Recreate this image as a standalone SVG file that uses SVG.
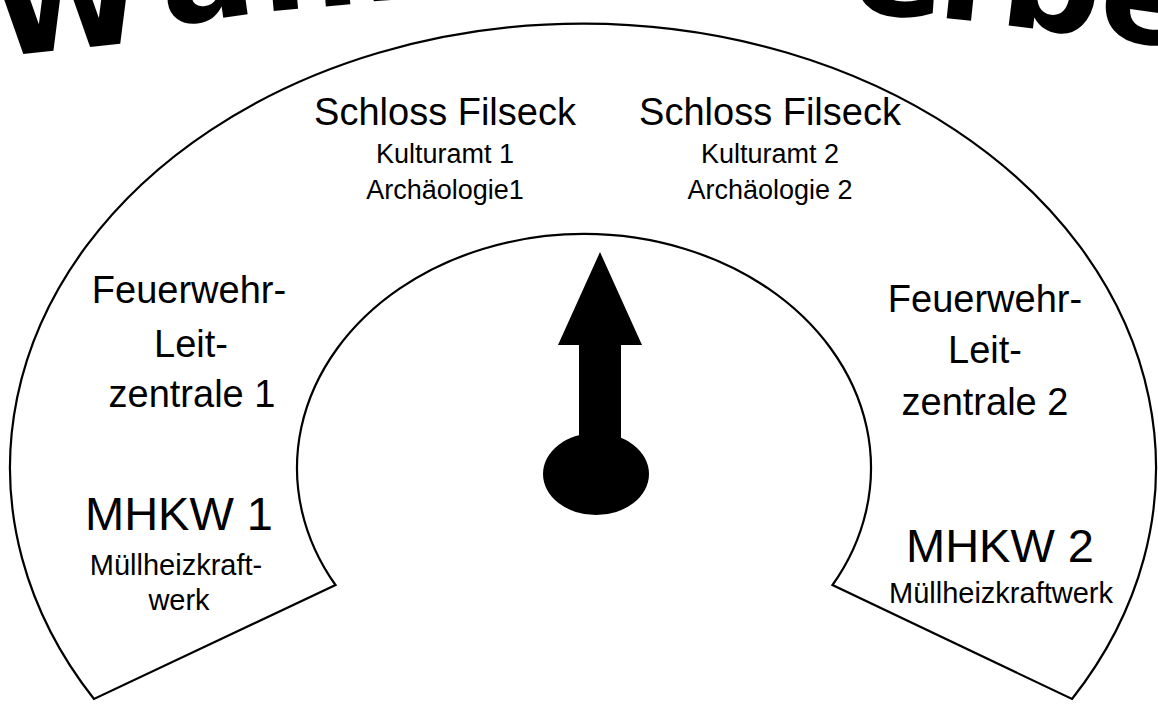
<svg xmlns="http://www.w3.org/2000/svg" width="1158" height="707" viewBox="0 0 1158 707">
<style>
.t{font-family:"Liberation Sans",Arial,sans-serif;fill:#000;text-anchor:middle}
.big{font-size:38px}
.sm{font-size:27px}
.mh{font-size:47px}
.mk{font-size:29px}
.title{font-family:"DejaVu Sans",sans-serif;font-weight:bold;font-size:140px;fill:#000}
</style>
<rect width="1158" height="707" fill="#fff"/>
<g id="title">
<text class="title" x="-5 165 262 362 410 505 600 848 935 997 1095" y="57 26 12 2 -12 -16 -6 12 17 24 36" rotate="-6 -8 -5 -4 -3 0 1 4 6 7 8">Wahlscheibe</text>
</g>
<g id="dial">
<path d="M 94,699 A 573,444 0 1 1 1072,699 L 832.5,585 A 287,234 0 1 0 335.5,585 Z" fill="#fff" stroke="#000" stroke-width="2.2" stroke-linejoin="miter"/>
</g>
<g id="pointer">
<path d="M 600,252 L 642,345 L 621,345 L 621,450 L 579,450 L 579,345 L 558,345 Z" fill="#000"/>
<ellipse cx="596" cy="474" rx="53" ry="41" fill="#000"/>
</g>
<g id="schloss1">
<text class="t big" x="445" y="125">Schloss Filseck</text>
<text class="t sm" x="445" y="163">Kulturamt 1</text>
<text class="t sm" x="445" y="199">Archäologie1</text>
</g>
<g id="schloss2">
<text class="t big" x="770" y="125">Schloss Filseck</text>
<text class="t sm" x="770" y="163">Kulturamt 2</text>
<text class="t sm" x="770" y="199">Archäologie 2</text>
</g>
<g id="feuerwehr1">
<text class="t big" x="189" y="303">Feuerwehr-</text>
<text class="t big" x="191" y="357">Leit-</text>
<text class="t big" x="192" y="407">zentrale 1</text>
</g>
<g id="feuerwehr2">
<text class="t big" x="985" y="312">Feuerwehr-</text>
<text class="t big" x="985" y="363">Leit-</text>
<text class="t big" x="985" y="415">zentrale 2</text>
</g>
<g id="mhkw1">
<text class="t mh" x="179" y="530">MHKW 1</text>
<text class="t mk" x="176" y="575">Müllheizkraft-</text>
<text class="t mk" x="179" y="610">werk</text>
</g>
<g id="mhkw2">
<text class="t mh" x="1000" y="562">MHKW 2</text>
<text class="t mk" x="1001" y="603">Müllheizkraftwerk</text>
</g>
<g id="connectors"></g>
</svg>
